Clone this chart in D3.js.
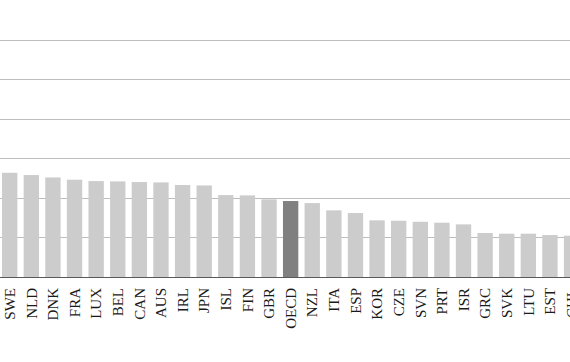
<!DOCTYPE html>
<html>
<head>
<meta charset="utf-8">
<script src="https://cdn.jsdelivr.net/npm/d3@7"></script>
<style>
  body { margin: 0; background: #fff; }
  svg { display: block; }
</style>
</head>
<body>
<svg width="570" height="362"></svg>
<script>
const countries = ["SWE", "NLD", "DNK", "FRA", "LUX", "BEL", "CAN", "AUS", "IRL", "JPN",
    "ISL", "FIN", "GBR", "OECD", "NZL", "ITA", "ESP", "KOR", "CZE", "SVN",
    "PRT", "ISR", "GRC", "SVK", "LTU", "EST", "CHL"];
const values = [13.17, 12.88, 12.58, 12.29, 12.12, 12.08, 12.0, 11.95, 11.62, 11.57,
    10.35, 10.31, 9.81, 9.6, 9.34, 8.42, 8.08, 7.16, 7.11, 6.98,
    6.86, 6.65, 5.56, 5.47, 5.47, 5.30, 5.22];
const gridTicks = [5, 10, 15, 20, 25, 30];

const data = countries.map((c, i) => ({ id: c, value: values[i] }));

const width = 570;
const baseY = 277;

const svg = d3.select('svg');

const step = 21.61;
const x = d3.scaleBand()
    .domain(countries)
    .range([-1.1, -1.1 + step * countries.length])
    .paddingInner(0.29)
    .paddingOuter(0.145);

const y = d3.scaleLinear()
    .domain([0, 35])
    .range([baseY, 0]);

// gridlines
svg.append('g')
    .selectAll('line')
    .data(gridTicks)
    .enter()
    .append('line')
    .attr('x1', 0)
    .attr('x2', width)
    .attr('y1', d => Math.round(y(d)) + 0.5)
    .attr('y2', d => Math.round(y(d)) + 0.5)
    .attr('stroke', '#bdbdbd')
    .attr('stroke-width', 1);

// bars
svg.append('g')
    .selectAll('rect')
    .data(data)
    .enter()
    .append('rect')
    .attr('x', d => x(d.id))
    .attr('width', x.bandwidth())
    .attr('y', d => y(d.value))
    .attr('height', d => baseY - y(d.value))
    .attr('fill', d => d.id === 'OECD' ? '#808080' : '#cccccc');

// x axis
const xAxis = svg.append('g')
    .attr('transform', `translate(0,${baseY})`)
    .call(d3.axisBottom(x).tickSize(0).tickPadding(11));

xAxis.select('.domain').remove();
xAxis.append('line')
    .attr('x1', 0)
    .attr('x2', width)
    .attr('y1', 0.5)
    .attr('y2', 0.5)
    .attr('stroke', '#595959');

xAxis.selectAll('text')
    .attr('font-family', '"Liberation Serif", "Times New Roman", serif')
    .attr('font-size', 15)
    .attr('fill', '#1a1a1a')
    .attr('transform', 'rotate(-90)')
    .attr('text-anchor', 'end')
    .attr('x', -11)
    .attr('y', 0)
    .attr('dy', '0.35em');
</script>
</body>
</html>
